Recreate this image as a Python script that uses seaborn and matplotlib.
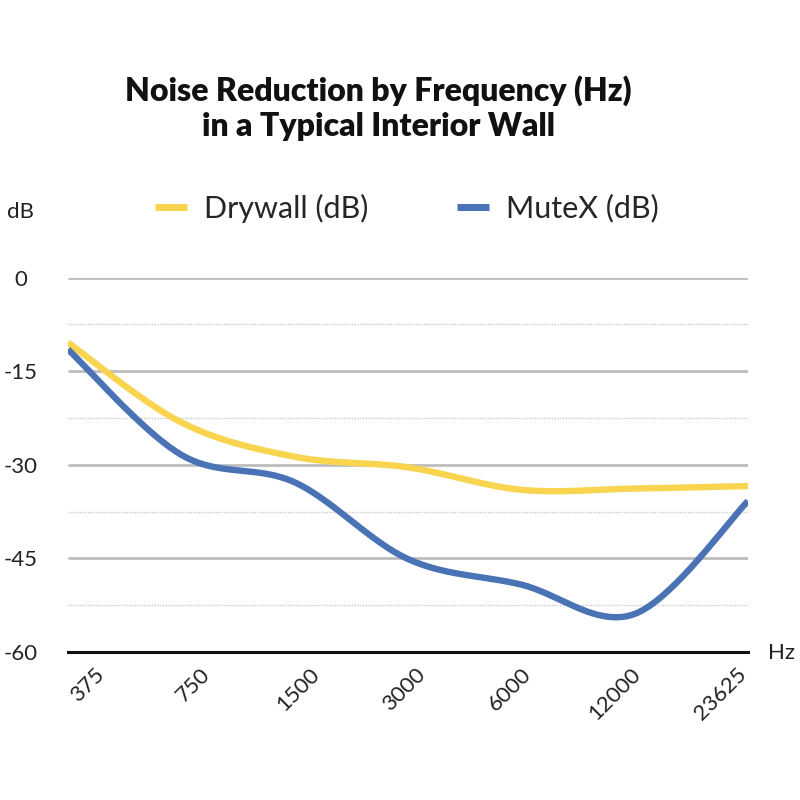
import numpy as np
import pandas as pd
import matplotlib
matplotlib.use("Agg")
import matplotlib.pyplot as plt
import matplotlib.transforms as mtransforms
import seaborn as sns

# ---- data ----
frequencies = ["375", "750", "1500", "3000", "6000", "12000", "23625"]
drywall_db = [-10.4, -23.2, -28.7, -30.4, -34.0, -33.8, -33.4]
mutex_db = [-11.5, -28.4, -32.8, -45.1, -49.2, -53.9, -35.8]
series_names = ["Drywall (dB)", "MuteX (dB)"]
y_ticks = [0, -15, -30, -45, -60]
title = "Noise Reduction by Frequency (Hz)\nin a Typical Interior Wall"

sns.set_theme(style="white")
plt.rcParams["font.family"] = ["Lato", "DejaVu Sans"]


def smooth(xs, ys, n=40):
    """Catmull-Rom style smoothing through every data point (like Excel smoothed lines)."""
    pts = np.column_stack([xs, ys]).astype(float)
    out = []
    for i in range(len(pts) - 1):
        p0 = pts[i - 1] if i > 0 else pts[i]
        p1 = pts[i]
        p2 = pts[i + 1]
        p3 = pts[i + 2] if i + 2 < len(pts) else pts[i + 1]
        c1 = p1 + (p2 - p0) / 6.0
        c2 = p2 - (p3 - p1) / 6.0
        t = np.linspace(0, 1, n, endpoint=(i == len(pts) - 2))[:, None]
        seg = ((1 - t) ** 3) * p1 + 3 * ((1 - t) ** 2) * t * c1 + 3 * (1 - t) * t ** 2 * c2 + t ** 3 * p2
        out.append(seg)
    arr = np.vstack(out)
    return arr[:, 0], arr[:, 1]


xpos = np.arange(len(frequencies))
frames = []
for name, vals in zip(series_names, [drywall_db, mutex_db]):
    sx, sy = smooth(xpos, vals)
    frames.append(pd.DataFrame({"x": sx, "y": sy, "series": name}))
df = pd.concat(frames, ignore_index=True)

fig = plt.figure(figsize=(8, 8), dpi=100)
# axes: x 68..748 px, y from 277.7 (0) to 652 (-60)
ax = fig.add_axes([68 / 800, 1 - 652 / 800, 680 / 800, (652 - 277.7) / 800])

# grid lines
for v in [-7.5, -22.5, -37.5, -52.5]:
    ax.axhline(v, color="#c8c8c8", lw=1.0, ls=(0, (1, 1)), zorder=1)
for v in [0, -15, -30, -45]:
    ax.axhline(v, color="#bdbdbd", lw=2.0, zorder=1)

palette = {"Drywall (dB)": "#F8D44F", "MuteX (dB)": "#4A73B6"}
sns.lineplot(data=df, x="x", y="y", hue="series", palette=palette, sort=False,
             linewidth=4.6, ax=ax, zorder=3, legend=True, estimator=None)
for line in ax.get_lines():
    line.set_solid_capstyle("butt")

ax.set_xlim(0, len(frequencies) - 1)
ax.set_ylim(-60, 0)
ax.set_xlabel("")
ax.set_ylabel("")
for s in ["top", "right", "left"]:
    ax.spines[s].set_visible(False)
ax.spines["bottom"].set_color("#111111")
ax.spines["bottom"].set_linewidth(2.2)
ax.spines["bottom"].set_zorder(4)

# category labels (Excel packs rotated labels slightly toward the centre)
ax.set_xticks(xpos)
ax.set_xticklabels([])
ax.tick_params(axis="x", length=0)
n = len(frequencies)
base = mtransforms.blended_transform_factory(ax.transData, ax.transAxes)
for i, lab in enumerate(frequencies):
    dx_px = -4 + (i - (n - 1) / 2) * -7.8
    tr = base + mtransforms.ScaledTranslation(dx_px / 100, -12 / 100, fig.dpi_scale_trans)
    ax.text(xpos[i], 0, lab, transform=tr, rotation=45, ha="center", va="top",
            fontsize=16, color="#222222")

ax.set_yticks(y_ticks)
ax.set_yticklabels([str(v) for v in y_ticks], ha="center", fontsize=16, color="#222222")
ax.tick_params(axis="y", length=0, pad=34)

# axis unit labels
fig.text(20 / 800, 1 - 212 / 800, "dB", ha="center", va="center", fontsize=16, color="#222222")
fig.text(781 / 800, 1 - 653 / 800, "Hz", ha="center", va="center", fontsize=16, color="#222222")

# legend
handles, labels = ax.get_legend_handles_labels()
leg = fig.legend(handles, labels, loc="center", bbox_to_anchor=(407 / 800, 1 - 208 / 800),
                 ncol=2, frameon=False, fontsize=22, handlelength=1.05, handletextpad=0.55,
                 columnspacing=2.9)
for h in leg.get_lines():
    h.set_linewidth(5)
if ax.get_legend():
    ax.get_legend().remove()

fig.text(378 / 800, 1 - 108 / 800, title, ha="center", va="center", fontsize=23,
         fontweight="heavy", color="#111111", linespacing=1.25)

fig.savefig("out.png", dpi=100)
